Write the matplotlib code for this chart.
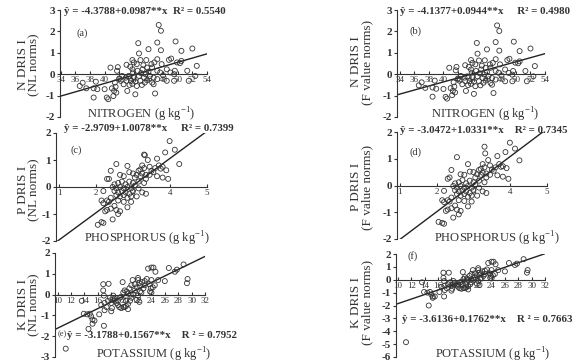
import numpy as np
import matplotlib
matplotlib.use("Agg")
import matplotlib.pyplot as plt

plt.rcParams['font.family'] = ['Liberation Serif', 'DejaVu Serif']
plt.rcParams['mathtext.fontset'] = 'custom'
plt.rcParams['mathtext.rm'] = 'Liberation Serif'
plt.rcParams['mathtext.bf'] = 'Liberation Serif:bold'
plt.rcParams['axes.unicode_minus'] = False

# leaf N (g/kg) and DRIS indices, (a) NL norms, (b) F value norms
n_conc = [47.4, 47.7, 44.6, 47.2, 49.7, 46.0, 47.7, 50.5, 52.0, 44.7,
          43.8, 44.9, 45.7, 47.2, 48.8, 49.1, 49.9, 50.3, 44.4, 43.0,
          46.4, 47.8, 40.8, 41.8, 41.7, 52.6, 51.3, 48.5, 49.6, 45.8,
          46.5, 43.8, 44.5, 45.2, 43.9, 47.2, 47.6, 49.0, 49.5, 52.4,
          42.4, 42.9, 43.3, 44.0, 44.7, 45.4, 46.2, 46.7, 47.2, 42.2,
          43.0, 43.6, 44.2, 44.9, 45.5, 46.5, 48.5, 49.5, 51.5, 41.4,
          42.6, 43.4, 44.4, 45.1, 46.7, 41.5, 41.0, 41.3, 41.6, 36.6,
          37.5, 38.5, 39.0, 40.0, 38.5, 40.3, 40.5, 41.2, 43.1, 44.2,
          46.9, 45.0, 45.6, 46.0, 43.5, 44.0, 45.3, 46.8, 42.0, 43.8,
          45.8, 48.0, 50.5, 38.8, 37.0]
n_nl = [2.30, 2.03, 1.45, 1.48, 1.53, 1.17, 1.12, 1.09, 1.20, 0.97,
        0.66, 0.66, 0.66, 0.70, 0.67, 0.73, 0.55, 0.52, 0.47, 0.44,
        0.47, 0.47, 0.31, 0.33, 0.16, 0.39, 0.16, 0.23, 0.16, 0.31,
        0.31, 0.23, 0.16, 0.23, 0.08, 0.16, 0.08, 0.08, 0.00, -0.08,
        -0.08, -0.16, -0.08, -0.13, -0.08, -0.16, -0.08, -0.16, -0.23, -0.31,
        -0.31, -0.31, -0.34, -0.31, -0.39, -0.39, -0.31, -0.31, -0.31, -0.39,
        -0.47, -0.50, -0.55, -0.50, -0.47, -0.59, -0.66, -0.78, -0.86, -0.55,
        -0.66, -0.66, -0.70, -0.70, -1.09, -1.09, -1.17, -1.02, -0.78, -0.94,
        -0.90, 0.05, 0.00, 0.12, 0.35, 0.55, 0.42, 0.55, -0.20, -0.45,
        -0.28, -0.05, 0.62, -0.35, -0.40]
n_fv = [2.28, 2.02, 1.46, 1.50, 1.52, 1.16, 1.10, 1.08, 1.20, 0.96,
        0.66, 0.64, 0.65, 0.70, 0.66, 0.72, 0.54, 0.51, 0.46, 0.42,
        0.46, 0.46, 0.30, 0.34, 0.18, 0.38, 0.15, 0.22, 0.15, 0.30,
        0.30, 0.22, 0.15, 0.22, 0.07, 0.15, 0.07, 0.06, -0.02, -0.10,
        -0.08, -0.16, -0.10, -0.14, -0.10, -0.18, -0.10, -0.18, -0.25, -0.30,
        -0.32, -0.33, -0.35, -0.33, -0.40, -0.41, -0.33, -0.33, -0.33, -0.38,
        -0.47, -0.51, -0.56, -0.52, -0.49, -0.58, -0.65, -0.78, -0.85, -0.52,
        -0.64, -0.62, -0.68, -0.69, -1.05, -1.06, -1.14, -0.98, -0.78, -0.92,
        -0.88, 0.04, -0.01, 0.10, 0.34, 0.53, 0.40, 0.53, -0.20, -0.45,
        -0.30, -0.06, 0.60, -0.30, -0.38]

# leaf P (g/kg) and DRIS indices, (c) NL norms, (d) F value norms
p_conc = [3.99, 4.13, 4.25, 3.87, 3.65, 3.30, 3.32, 3.40, 3.80, 3.75,
          3.60, 3.70, 3.90, 3.95, 3.55, 3.50, 3.45, 3.30, 3.25, 3.20,
          3.10, 3.00, 2.90, 2.85, 2.55, 2.40, 2.30, 2.35, 2.65, 2.75,
          3.05, 3.15, 3.35, 3.65, 3.80, 3.30, 2.50, 2.60, 2.70, 2.80,
          2.90, 3.00, 2.45, 2.55, 2.65, 2.75, 2.85, 2.95, 3.05, 2.50,
          2.60, 2.70, 2.80, 2.90, 3.00, 3.15, 3.25, 2.55, 2.65, 2.75,
          2.85, 2.95, 2.20, 2.40, 2.30, 2.15, 2.20, 2.35, 2.60, 2.75,
          2.85, 2.95, 2.50, 2.40, 2.30, 2.25, 2.55, 2.65, 2.60, 2.15,
          2.20, 2.05, 2.45, 3.10, 3.35, 3.20, 3.25, 3.45, 3.15, 3.35]
p_nl = [1.70, 1.38, 0.85, 1.28, 1.05, 1.20, 1.18, 1.00, 0.75, 0.68,
        0.70, 0.80, 0.62, 0.30, 0.55, 0.60, 0.45, 0.70, 0.50, 0.40,
        0.45, 0.50, 0.55, 0.78, 0.85, 0.60, 0.30, 0.30, 0.45, 0.40,
        0.35, 0.20, 0.30, 0.40, 0.35, 0.15, 0.10, 0.15, 0.20, 0.10,
        0.20, 0.15, 0.00, -0.05, 0.00, -0.05, 0.00, -0.05, 0.05, -0.15,
        -0.20, -0.15, -0.20, -0.25, -0.15, -0.05, -0.20, -0.30, -0.35, -0.30,
        -0.40, -0.35, -0.15, -0.40, -0.50, -0.50, -0.60, -0.55, -0.50, -0.55,
        -0.75, -0.55, -0.70, -0.80, -0.85, -0.90, -0.85, -0.90, -1.00, -1.30,
        -1.33, -1.40, -1.20, -0.35, -0.25, 0.65, 0.80, 0.75, 0.60, 0.45]
p_fv = [1.60, 1.38, 0.94, 1.25, 1.10, 1.45, 1.20, 0.95, 0.72, 0.70,
        0.68, 0.80, 0.65, 0.25, 0.55, 0.60, 0.40, 0.68, 0.48, 0.40,
        0.42, 0.50, 0.52, 0.80, 1.06, 0.58, 0.25, 0.30, 0.42, 0.40,
        0.30, 0.18, 0.30, 0.38, 0.33, 0.12, 0.08, 0.12, 0.20, 0.08,
        0.18, 0.12, -0.02, -0.08, -0.02, -0.08, -0.02, -0.08, 0.02, -0.18,
        -0.22, -0.18, -0.22, -0.28, -0.18, -0.08, -0.22, -0.32, -0.38, -0.32,
        -0.42, -0.38, -0.20, -0.45, -0.55, -0.55, -0.62, -0.60, -0.55, -0.58,
        -0.78, -0.60, -0.75, -0.85, -0.90, -0.95, -0.90, -0.95, -1.08, -1.40,
        -1.43, -1.36, -1.20, -0.38, -0.28, 0.62, 0.80, 0.75, 0.58, 0.45]

# leaf K (g/kg) and DRIS indices, (e) NL norms, (f) F value norms
k_conc = [11.2, 13.6, 14.4, 14.8, 15.0, 15.2, 15.2, 14.6, 15.5, 13.9,
          16.2, 16.8, 16.8, 16.9, 17.0, 16.5, 17.0, 16.9, 17.6, 18.3,
          18.5, 18.1, 18.0, 18.8, 19.0, 19.2, 19.5, 19.8, 20.2, 20.5,
          20.8, 21.0, 21.3, 19.7, 19.5, 19.8, 20.0, 20.3, 20.5, 20.7,
          21.0, 21.2, 21.5, 21.8, 22.0, 22.0, 22.2, 22.3, 22.0, 21.8,
          22.2, 22.5, 22.6, 23.0, 23.3, 23.5, 24.0, 24.3, 24.6, 24.0,
          23.7, 23.9, 24.0, 24.2, 24.5, 25.0, 26.0, 26.6, 27.5, 27.8,
          28.8, 29.3, 29.4, 23.8, 23.0, 22.8, 20.0, 20.5, 19.0, 18.5,
          18.0, 17.5, 17.3, 17.8, 19.3, 20.9, 21.5, 22.3, 20.2]
k_nl = [-2.60, -0.30, -0.95, -0.92, -1.05, -1.20, -1.40, -1.65, -1.25, -0.92,
        -0.95, 0.50, 0.20, -0.05, -0.40, -0.50, -0.75, -1.50, 0.52, -0.05,
        -0.30, -0.65, -0.80, -0.40, -0.50, -0.60, -0.65, -0.60, -0.55, -0.45,
        -0.30, -0.15, 0.00, 0.60, -0.10, 0.10, 0.20, 0.15, 0.05, 0.30,
        0.45, 0.70, 0.50, 0.35, 0.70, 0.80, 0.55, 0.15, -0.05, -0.25,
        -0.35, 0.10, 0.60, 0.65, 0.75, 1.25, 1.30, 1.30, 1.10, 0.70,
        0.50, 0.30, 0.10, 0.35, 0.45, 0.70, 0.65, 1.28, 1.10, 1.20,
        1.45, 0.55, 0.75, 0.15, 0.45, 0.30, -0.60, -0.70, -0.30, -0.20,
        -0.40, -0.30, -0.60, -0.15, -0.15, 0.00, 0.20, 0.40, -0.30]
k_fv = [-4.85, -0.20, -1.00, -0.95, -1.15, -1.30, -1.40, -2.00, -1.30, -0.95,
        -0.95, 0.55, 0.15, -0.10, -0.45, -0.55, -0.80, -1.30, 0.55, -0.10,
        -0.35, -0.70, -0.85, -0.45, -0.55, -0.65, -0.70, -0.65, -0.60, -0.50,
        -0.35, -0.20, 0.00, 0.60, -0.15, 0.05, 0.20, 0.10, 0.00, 0.30,
        0.45, 0.75, 0.50, 0.35, 0.75, 0.90, 0.55, 0.10, -0.10, -0.30,
        -0.40, 0.10, 0.65, 0.70, 0.80, 1.30, 1.40, 1.40, 1.20, 0.75,
        0.50, 0.30, 0.10, 0.35, 0.45, 0.75, 0.65, 1.30, 1.15, 1.25,
        1.60, 0.55, 0.75, 0.15, 0.45, 0.30, -0.65, -0.75, -0.35, -0.25,
        -0.45, -0.35, -0.65, -0.20, -0.20, 0.00, 0.20, 0.40, -0.35]

W, H = 581, 363
fig = plt.figure(figsize=(W / 100, H / 100), dpi=100)
ink = '#333333'


def rect(x0, y0, x1, y1):
    return [x0 / W, 1 - y1 / H, (x1 - x0) / W, (y1 - y0) / H]


def txt(x, y, s, **kw):
    fig.text(x / W, 1 - y / H, s, color=ink, **kw)


def panel(r, x, y, xlim, ylim, xticks, a, b):
    ax = fig.add_axes(r)
    ax.scatter(x, y, s=13, facecolors='none', edgecolors=ink, linewidths=0.6, zorder=3)
    xs = np.array(xlim)
    ax.plot(xs, a + b * xs, color='#222222', lw=1.0, zorder=2)
    ax.set_xlim(xlim)
    ax.set_ylim(ylim)
    ax.set_xticks(xticks)
    ax.set_yticks(range(int(ylim[0]), int(ylim[1]) + 1))
    for s in ['top', 'right']:
        ax.spines[s].set_visible(False)
    ax.spines['bottom'].set_position(('data', 0))
    ax.spines['bottom'].set_linewidth(0.8)
    ax.spines['left'].set_linewidth(0.8)
    ax.spines['bottom'].set_color(ink)
    ax.spines['left'].set_color(ink)
    ax.tick_params(axis='x', direction='in', length=2, labelsize=6.5, pad=1.5,
                   colors=ink)
    ax.tick_params(axis='y', direction='out', length=2.5, labelsize=8, pad=1,
                   colors=ink)
    for t in ax.get_yticklabels():
        t.set_fontweight('bold')
    ax.patch.set_alpha(0)
    return ax


# (a) and (b)
panel(rect(60, 10, 207, 117), n_conc, n_nl, (33.9, 54), (-2, 3), range(34, 55, 2), -4.3788, 0.0987)
panel(rect(397, 10, 545, 117), n_conc, n_fv, (33.6, 54), (-2, 3), range(34, 55, 2), -4.1377, 0.0944)
# (c) and (d)
panel(rect(56, 133, 207, 241), p_conc, p_nl, (0.92, 5), (-2, 2), range(1, 6), -2.9709, 1.0078)
panel(rect(397, 132, 547, 239), p_conc, p_fv, (0.92, 5), (-2, 2), range(1, 6), -3.0472, 1.0331)
# (e) and (f)
panel(rect(55, 253, 205, 357), k_conc, k_nl, (9.6, 32), (-3, 2), range(10, 33, 2), -3.1788, 0.1567)
panel(rect(396, 254, 545, 357), k_conc, k_fv, (9.7, 32), (-6, 2), range(10, 33, 2), -3.6136, 0.1762)

eq = dict(fontsize=7.8, fontweight='bold', va='center', ha='left')
txt(64, 12, 'ŷ = -4.3788+0.0987**x  R² = 0.5540', **eq)
txt(400, 12, 'ŷ = -4.1377+0.0944**x     R² = 0.4980', **eq)
txt(64, 129, 'ŷ = -2.9709+1.0078**x     R² = 0.7399', **eq)
txt(400, 130, 'ŷ = -3.0472+1.0331**x    R² = 0.7345', **eq)
txt(67, 336, 'ŷ = -3.1788+0.1567**x    R ² = 0.7952', **eq)
txt(402, 320, 'ŷ = -3.6136+0.1762**x    R ² = 0.7663', **eq)

lab = dict(fontsize=7.5, va='center', ha='center')
txt(82, 33, '(a)', **lab)
txt(416, 31, '(b)', **lab)
txt(76, 150, '(c)', **lab)
txt(416, 152, '(d)', **lab)
txt(62, 334, '(e)', fontsize=6, va='center', ha='center')
txt(413, 256, '(f)', **lab)

xl = dict(fontsize=9, va='center', ha='center')
unit = r' (g kg$^{\mathregular{-1}}$)'
txt(141, 115, 'NITROGEN' + unit, **xl)
txt(485, 115, 'NITROGEN' + unit, **xl)
txt(147, 239, 'PHOSPHORUS' + unit, **xl)
txt(497, 239, 'PHOSPHORUS' + unit, **xl)
txt(154, 355, 'POTASSIUM' + unit, **xl)
txt(493, 355, 'POTASSIUM' + unit, **xl)

yl = dict(fontsize=9.5, va='center', ha='center', rotation=90)
for yc, name in [(65, 'N DRIS I'), (190, 'P DRIS I'), (305, 'K DRIS I')]:
    txt(23, yc, name, **yl)
    txt(34, yc, '(NL norms)', **yl)
    txt(356, yc - 3, name, **yl)
    txt(367, yc - 3, '(F value norms)', **yl)

fig.savefig('out.png', dpi=100)
